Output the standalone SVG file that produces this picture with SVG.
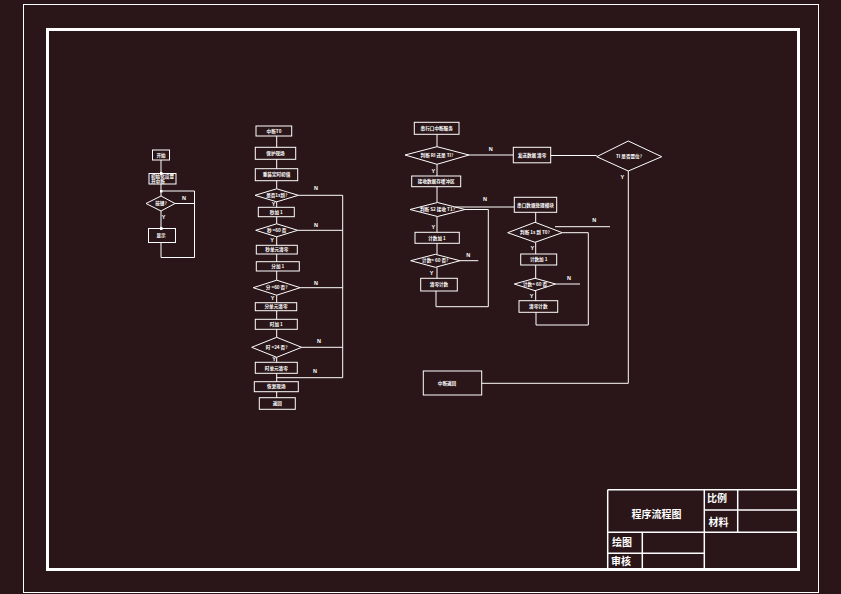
<svg xmlns="http://www.w3.org/2000/svg" width="841" height="594" viewBox="0 0 841 594">
<defs>
<style>
.bg{fill:#2a1618}
.s{fill:none;stroke:#fff;stroke-width:1}
.t{fill:#fff;font-family:"Noto Sans CJK SC","Noto Sans",sans-serif;font-size:4.6px;font-weight:bold;text-anchor:middle}
.l{fill:#fff;font-family:"Liberation Sans",sans-serif;font-size:5.5px;font-weight:bold;text-anchor:middle}
.tb{fill:#fff;font-family:"Noto Sans CJK SC",sans-serif;font-size:10px;font-weight:bold;text-anchor:middle}
.tl{fill:none;stroke:#fff;stroke-width:1.5}
</style>
<marker id="m" markerWidth="3" markerHeight="3" refX="1.5" refY="1.5" markerUnits="userSpaceOnUse" orient="auto"><rect width="3" height="3" fill="#fff"/></marker>
</defs>
<rect class="bg" x="0" y="0" width="841" height="594"/>
<rect x="23.5" y="4.5" width="795" height="588" fill="none" stroke="#fff" stroke-width="1"/>
<rect x="47.5" y="29.5" width="751" height="540" fill="none" stroke="#fff" stroke-width="3"/>

<g id="connectors" class="s">
<line x1="161" y1="160" x2="161" y2="173.5" marker-end="url(#m)"/>
<line x1="161" y1="184" x2="161" y2="196"/>
<line x1="161" y1="211" x2="161" y2="228.5" marker-end="url(#m)"/>
<line x1="175" y1="203.5" x2="194.5" y2="203.5"/>
<polyline points="161,242.5 161,257.5 194.5,257.5 194.5,191 161,191" marker-end="url(#m)"/>
<line x1="276.7" y1="136" x2="276.7" y2="147.3"/>
<line x1="276.7" y1="159.3" x2="276.7" y2="168.7"/>
<line x1="276.7" y1="180.7" x2="276.7" y2="188.8"/>
<line x1="276.7" y1="201.8" x2="276.7" y2="207.3"/>
<line x1="276.7" y1="216.7" x2="276.7" y2="223.8"/>
<line x1="276.7" y1="236.8" x2="276.7" y2="245.3"/>
<line x1="276.7" y1="254" x2="276.7" y2="261.7"/>
<line x1="276.7" y1="271" x2="276.7" y2="280.2"/>
<line x1="276.7" y1="295.2" x2="276.7" y2="302.7"/>
<line x1="276.7" y1="310.7" x2="276.7" y2="319.3"/>
<line x1="276.7" y1="329.3" x2="276.7" y2="337.3"/>
<line x1="276.7" y1="357.3" x2="276.7" y2="362.3"/>
<line x1="276.7" y1="373.3" x2="276.7" y2="381.7"/>
<line x1="276.7" y1="391.7" x2="276.7" y2="397.7"/>
<line x1="298.4" y1="195.3" x2="342.7" y2="195.3"/>
<line x1="297.7" y1="230.3" x2="342.7" y2="230.3"/>
<line x1="300.2" y1="287.7" x2="342.7" y2="287.7"/>
<line x1="301.7" y1="347.3" x2="342.7" y2="347.3"/>
<polyline points="342.7,195.3 342.7,377.7 276.7,377.7"/>
<line x1="437" y1="134.3" x2="437" y2="146.7"/>
<line x1="437" y1="164.3" x2="437" y2="176"/>
<line x1="437" y1="186.7" x2="437" y2="202.5"/>
<line x1="437" y1="216.5" x2="437" y2="232.3"/>
<line x1="437" y1="243.3" x2="437" y2="254.3"/>
<line x1="437" y1="267.3" x2="437" y2="278.3"/>
<line x1="469" y1="155" x2="513.3" y2="155"/>
<line x1="550.7" y1="155.5" x2="596.7" y2="155.5"/>
<polyline points="628.3,171 628.3,383.3 481.7,383.3"/>
<line x1="455.2" y1="207" x2="514.3" y2="207"/>
<polyline points="436,291 436,306.7 488.3,306.7 488.3,209.5 465,209.5"/>
<line x1="460" y1="260.7" x2="478.3" y2="260.7"/>
<line x1="535.7" y1="212.3" x2="535.7" y2="222.3"/>
<line x1="535.7" y1="242.3" x2="535.7" y2="254"/>
<line x1="535.7" y1="265" x2="535.7" y2="278.3"/>
<line x1="535.7" y1="290.7" x2="535.7" y2="300.7"/>
<line x1="555" y1="226.7" x2="610" y2="226.7"/>
<polyline points="562.3,232.7 588.3,232.7 588.3,325 536,325 536,312.3"/>
<line x1="555.7" y1="284" x2="580" y2="284"/>
</g>

<g id="labels">
<text class="l" x="184" y="200">N</text>
<text class="l" x="163.5" y="219">Y</text>
<text class="l" x="316" y="189.5">N</text>
<text class="l" x="316" y="226.5">N</text>
<text class="l" x="316" y="284.5">N</text>
<text class="l" x="319" y="343">N</text>
<text class="l" x="315" y="373">N</text>
<text class="l" x="273.5" y="206">Y</text>
<text class="l" x="272" y="242">Y</text>
<text class="l" x="272.7" y="300">Y</text>
<text class="l" x="274" y="361">Y</text>
<text class="l" x="490.7" y="151">N</text>
<text class="l" x="485" y="201">N</text>
<text class="l" x="468.3" y="257">N</text>
<text class="l" x="594.3" y="222">N</text>
<text class="l" x="569" y="280">N</text>
<text class="l" x="622.3" y="179">Y</text>
<text class="l" x="433.3" y="173">Y</text>
<text class="l" x="433.3" y="229">Y</text>
<text class="l" x="431.7" y="275">Y</text>
<text class="l" x="532.3" y="250">Y</text>
<text class="l" x="531.7" y="298">Y</text>
</g>

<g id="L1"><rect class="s" x="152.5" y="150" width="17" height="10"/><text class="t" x="161" y="156.8">开始</text></g>
<g id="L2"><rect class="s" x="149" y="173.5" width="27" height="10.5"/><text class="t" x="151" y="178" style="text-anchor:start">初始化设置</text><text class="t" x="151" y="182.8" style="text-anchor:start">开中断</text></g>
<g id="L3"><polygon class="s" points="146,203.5 161,196 175,203.5 161,211"/><text class="t" x="161" y="205.2">按键?</text></g>
<g id="L4"><rect class="s" x="148.5" y="228.5" width="27" height="14"/><text class="t" x="161" y="237.2">显示</text></g>

<g id="M1"><rect class="s" x="256" y="126" width="35.7" height="10"/><text class="t" x="274" y="132.7">中断T0</text></g>
<g id="M2"><rect class="s" x="255.3" y="147.3" width="40.4" height="12"/><text class="t" x="275.5" y="155">保护现场</text></g>
<g id="M3"><rect class="s" x="255.3" y="168.7" width="42.4" height="12"/><text class="t" x="276.5" y="176.4">重装定时初值</text></g>
<g id="M4"><polygon class="s" points="255,195.3 276.7,188.8 298.4,195.3 276.7,201.8"/><text class="t" x="276.7" y="197">是否1s到?</text></g>
<g id="M5"><rect class="s" x="258.3" y="207.3" width="36" height="9.4"/><text class="t" x="276.3" y="213.7">秒加 1</text></g>
<g id="M6"><polygon class="s" points="255.7,230.3 276.7,223.8 297.7,230.3 276.7,236.8"/><text class="t" x="276.7" y="232">秒 =60 否</text></g>
<g id="M7"><rect class="s" x="256.3" y="245.3" width="41" height="8.7"/><text class="t" x="276.8" y="251.4">秒单元清零</text></g>
<g id="M8"><rect class="s" x="256.3" y="261.7" width="43" height="9.3"/><text class="t" x="277.8" y="268">分加 1</text></g>
<g id="M9"><polygon class="s" points="253.2,287.7 276.7,280.2 300.2,287.7 276.7,295.2"/><text class="t" x="276.7" y="289.4">分 =60 否?</text></g>
<g id="M10"><rect class="s" x="255.3" y="302.7" width="41.4" height="8"/><text class="t" x="276" y="308.4">分单元清零</text></g>
<g id="M11"><rect class="s" x="255.3" y="319.3" width="42" height="10"/><text class="t" x="276.3" y="326">时加 1</text></g>
<g id="M12"><polygon class="s" points="251.7,347.3 276.7,337.3 301.7,347.3 276.7,357.3"/><text class="t" x="276.7" y="349">时 =24 否?</text></g>
<g id="M13"><rect class="s" x="255.3" y="362.3" width="42" height="11"/><text class="t" x="276.3" y="369.5">时单元清零</text></g>
<g id="M14"><rect class="s" x="254.3" y="381.7" width="44" height="10"/><text class="t" x="276.3" y="388.4">恢复现场</text></g>
<g id="M15"><rect class="s" x="259.3" y="397.7" width="36" height="11.6"/><text class="t" x="277.3" y="405.2">返回</text></g>

<g id="R1"><rect class="s" x="414.3" y="122.3" width="44.7" height="12"/><text class="t" x="436.7" y="130">串行口中断服务</text></g>
<g id="R2"><polygon class="s" points="405,155 437,146.7 469,155 437,164.3"/><text class="t" x="437" y="156.8">判断 RI 还是 TI?</text></g>
<g id="R3"><rect class="s" x="513.3" y="147.3" width="37.4" height="15.5"/><text class="t" x="532" y="156.8">发送数据 清零</text></g>
<g id="R4"><polygon class="s" points="596.7,156.7 628.3,141 661.7,156.7 628.3,171"/><text class="t" x="629" y="158.4">TI 是否置位?</text></g>
<g id="R5"><rect class="s" x="411.7" y="176" width="49" height="10.7"/><text class="t" x="436.2" y="183">接收数据存缓冲区</text></g>
<g id="R6"><polygon class="s" points="410,209.5 437.5,202.5 465,209.5 437.5,216.5"/><text class="t" x="437.5" y="211.2">判断 S2 接收 T1?</text></g>
<g id="R7"><rect class="s" x="415" y="232.3" width="44.3" height="11"/><text class="t" x="437" y="239.5">计数加 1</text></g>
<g id="R8"><polygon class="s" points="410.7,260.7 435.3,254.3 460,260.7 435.3,267.3"/><text class="t" x="435.3" y="262.4">计数= 60 否?</text></g>
<g id="R9"><rect class="s" x="420.7" y="278.3" width="36.6" height="12.7"/><text class="t" x="439" y="286.3">清零计数</text></g>
<g id="R10"><rect class="s" x="514.3" y="197.3" width="42.4" height="15"/><text class="t" x="535.5" y="206.5">串口数据处理模块</text></g>
<g id="R11"><polygon class="s" points="507.7,232.7 535,222.3 562.3,232.7 535,242.3"/><text class="t" x="535" y="234.4">判断 1s 到 T0?</text></g>
<g id="R12"><rect class="s" x="520.7" y="254" width="36" height="11"/><text class="t" x="538.7" y="261.2">计数加 1</text></g>
<g id="R13"><polygon class="s" points="514.3,284 535,278.3 555.7,284 535,290.7"/><text class="t" x="535" y="285.7">计数= 60 否</text></g>
<g id="R14"><rect class="s" x="519" y="300.7" width="38.7" height="11.6"/><text class="t" x="538.3" y="308.2">清零计数</text></g>
<g id="R15"><rect class="s" x="423.3" y="371" width="58.4" height="24"/><text class="t" x="447" y="384.8">中断返回</text></g>

<g id="titleblock">
<line class="tl" x1="607.7" y1="489.7" x2="798.5" y2="489.7" stroke-width="2.5"/>
<line class="tl" x1="607.7" y1="489.7" x2="607.7" y2="569.5" stroke-width="2.5"/>
<line class="tl" x1="704.3" y1="489.7" x2="704.3" y2="569.5"/>
<line class="tl" x1="737.7" y1="489.7" x2="737.7" y2="532.3"/>
<line class="tl" x1="642.3" y1="532.3" x2="642.3" y2="569.5"/>
<line class="tl" x1="704.3" y1="510" x2="798.5" y2="510"/>
<line class="tl" x1="607.7" y1="532.3" x2="798.5" y2="532.3"/>
<line class="tl" x1="607.7" y1="553.3" x2="704.3" y2="553.3"/>
<text class="tb" x="656.5" y="518">程序流程图</text>
<text class="tb" x="717" y="502">比例</text>
<text class="tb" x="718.5" y="526">材料</text>
<text class="tb" x="622" y="545.5">绘图</text>
<text class="tb" x="621" y="565">审核</text>
</g>
</svg>
